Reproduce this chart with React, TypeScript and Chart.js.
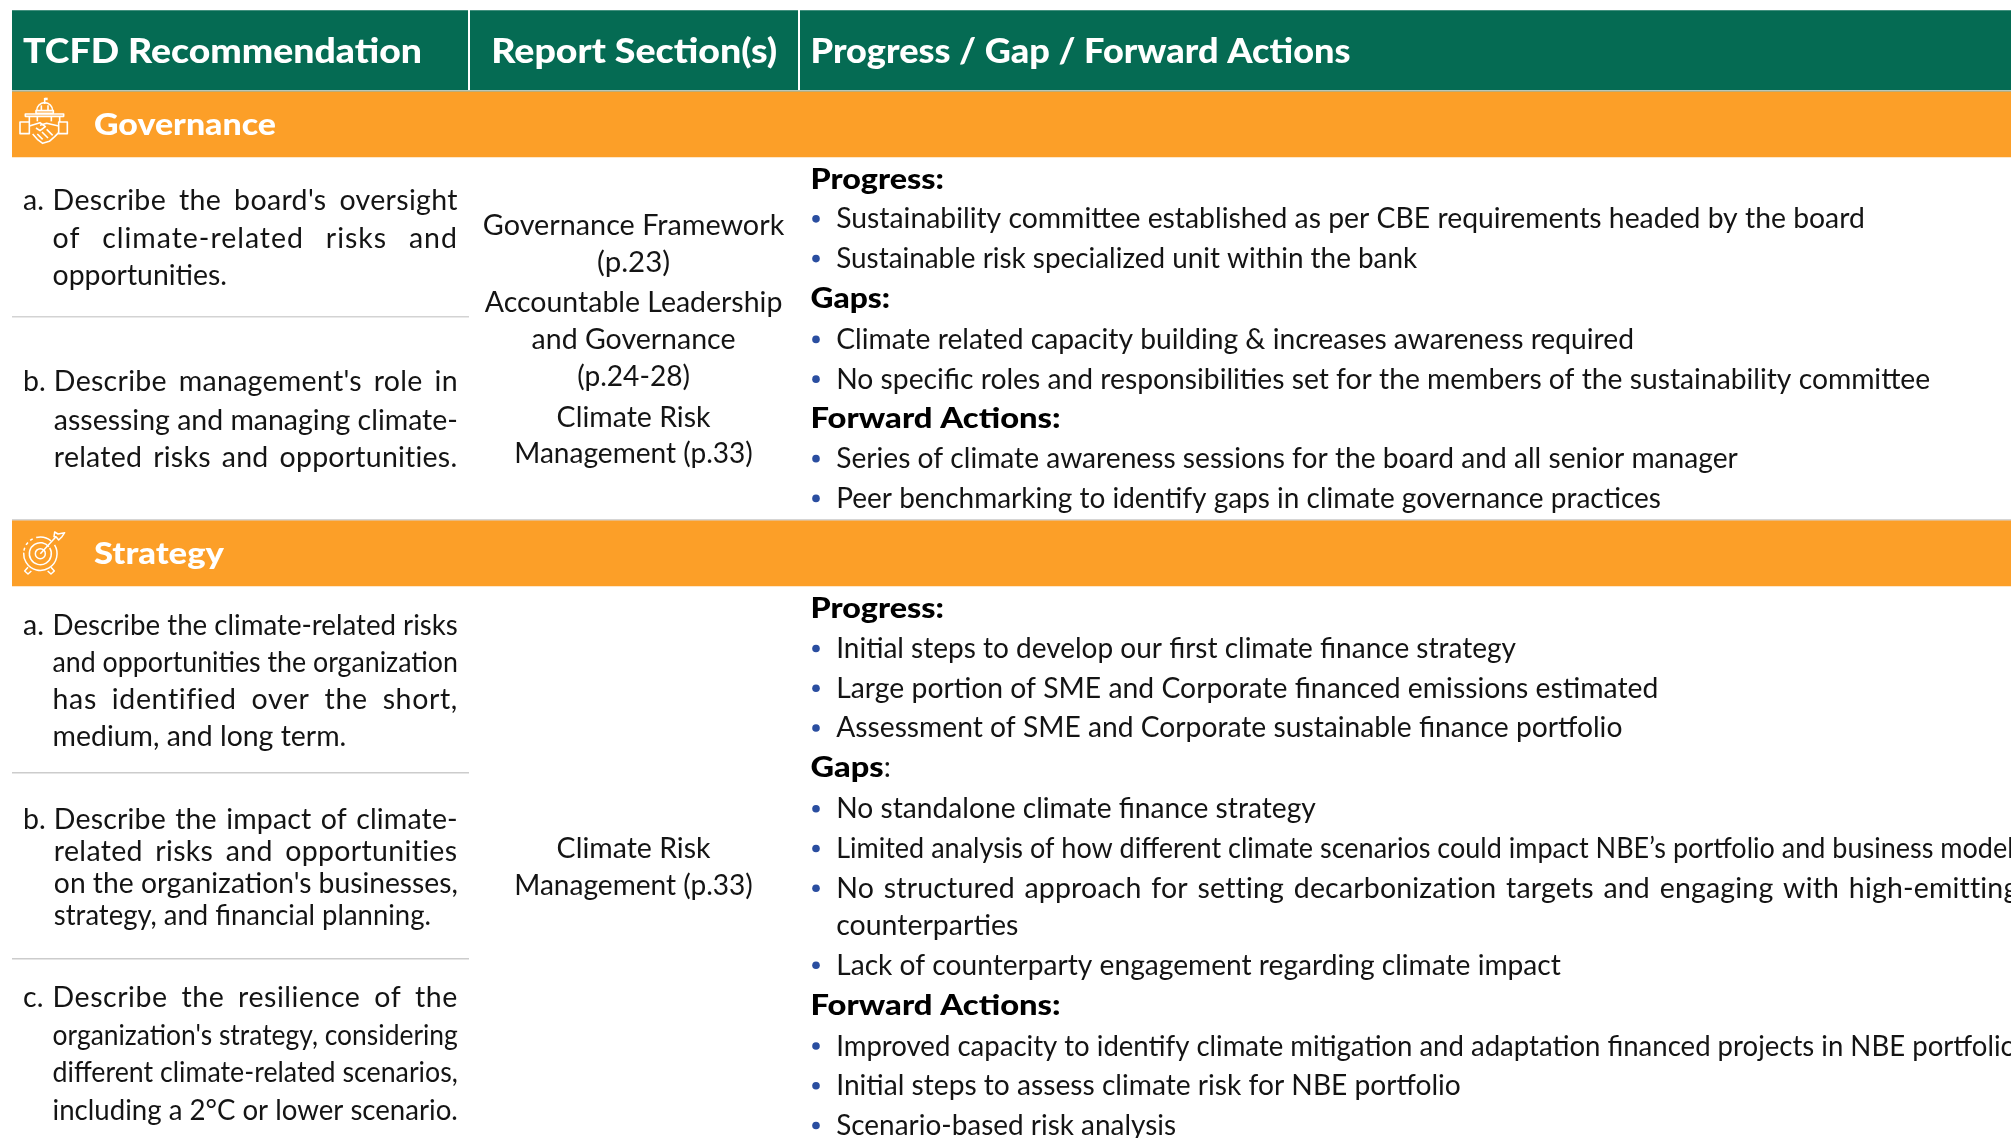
import React, { useEffect, useRef } from "react";
import { Chart, registerables } from "chart.js";

Chart.register(...registerables);

// ---- table contents ----
const headerLabels = ["TCFD Recommendation", "Report Section(s)", "Progress / Gap / Forward Actions"];
const sectionLabels = ["Governance", "Strategy"];
const rowLabels = ["margin", "header", "Governance", "Governance rows", "Strategy", "Strategy rows"];
const rowHeights = [10, 81, 66, 362, 67, 552];

const govRec = [
  ["a.", "Describe the board's oversight", "of climate-related risks and", "opportunities."],
  ["b.", "Describe management's role in", "assessing and managing climate-", "related risks and opportunities."],
];
const stratRec = [
  ["a.", "Describe the climate-related risks", "and opportunities the organization", "has identified over the short,", "medium, and long term."],
  ["b.", "Describe the impact of climate-", "related risks and opportunities", "on the organization's businesses,", "strategy, and financial planning."],
  ["c.", "Describe the resilience of the", "organization's strategy, considering", "different climate-related scenarios,", "including a 2°C or lower scenario."],
];
const govSections = ["Governance Framework", "(p.23)", "Accountable Leadership", "and Governance", "(p.24-28)", "Climate Risk", "Management (p.33)"];
const stratSections = ["Climate Risk", "Management (p.33)"];

const govActions = [
  "#Progress:",
  "Sustainability committee established as per CBE requirements headed by the board",
  "Sustainable risk specialized unit within the bank",
  "#Gaps:",
  "Climate related capacity building & increases awareness required",
  "No specific roles and responsibilities set for the members of the sustainability committee",
  "#Forward Actions:",
  "Series of climate awareness sessions for the board and all senior manager",
  "Peer benchmarking to identify gaps in climate governance practices",
];
const stratActions = [
  "#Progress:",
  "Initial steps to develop our first climate finance strategy",
  "Large portion of SME and Corporate financed emissions estimated",
  "Assessment of SME and Corporate sustainable finance portfolio",
  "#Gaps",
  "No standalone climate finance strategy",
  "Limited analysis of how different climate scenarios could impact NBE\u2019s portfolio and business model",
  "No structured approach for setting decarbonization targets and engaging with high-emitting",
  "~counterparties",
  "Lack of counterparty engagement regarding climate impact",
  "#Forward Actions:",
  "Improved capacity to identify climate mitigation and adaptation financed projects in NBE portfolio",
  "Initial steps to assess climate risk for NBE portfolio",
  "Scenario-based risk analysis",
];

// ---- layout, in px of the reference ----
const BODY = "Lato, 'Open Sans', sans-serif";
const INK = "#141414";
const k = 2011 / 1568;
const sx = (v: number) => v * k;
const govActionY = [139, 170, 201, 232, 264, 295, 326, 357, 388];
const govActionEnd = [736, 1454, 1105, 694, 1274, 1505, 827, 1355, 1295];
const stratActionY = [474, 505, 536, 567, 598, 630, 661, 692, 721, 752, 783, 815, 846, 877];
const stratActionEnd = [736, 1182, 1293, 1265, 689, 1026, 1570, 1573, 794, 1217, 827, 1572, 1139, 917];
const justifiedAction = "No structured";
const govSectionY = [175, 204, 235, 264, 293, 325, 353];
const govSectionW = [235, 57, 232, 159, 88, 120, 186];
const stratSectionY = [661, 690];
const stratSectionW = [120, 186];

type RecBlock = { x: number; y: number[]; end: number[]; just: boolean[] };
const govRecLayout: RecBlock[] = [
  { x: 41, y: [156, 185, 214], end: [357, 357, 177], just: [true, true, false] },
  { x: 42, y: [297, 327, 356], end: [357, 357, 357], just: [true, true, true] },
];
const stratRecLayout: RecBlock[] = [
  { x: 41, y: [487, 516, 545, 574], end: [357, 357, 357, 270], just: [true, true, true, false] },
  { x: 42, y: [638, 663, 688, 713], end: [357, 357, 357, 336], just: [true, true, true, false] },
  { x: 41, y: [777, 807, 836, 865], end: [357, 357, 357, 357], just: [true, true, true, true] },
];

function fit(
  ctx: CanvasRenderingContext2D,
  text: string,
  x0: number,
  x1: number,
  y: number,
  font: string,
  color: string,
  justify = false
) {
  ctx.save();
  ctx.font = font;
  ctx.fillStyle = color;
  ctx.textBaseline = "alphabetic";
  ctx.textAlign = "left";
  const w = ctx.measureText(text).width;
  const target = x1 - x0;
  const spaces = text.split(" ").length - 1;
  if (justify && w < target && spaces > 0) {
    const extra = target - w;
    (ctx as any).letterSpacing = (extra * 0.4) / text.length + "px";
    (ctx as any).wordSpacing = (extra * 0.6) / spaces + "px";
    ctx.fillText(text, x0, y);
  } else {
    ctx.translate(x0, y);
    ctx.scale(target / w, 1);
    ctx.fillText(text, 0, 0);
  }
  ctx.restore();
}

function drawBuildingIcon(ctx: CanvasRenderingContext2D, X: (v: number) => number, Y: (v: number) => number) {
  const I = (p: number) => X(12 + p / 3);
  const J = (p: number) => Y(92 + p / 3);
  ctx.save();
  ctx.strokeStyle = "#ffffff";
  ctx.fillStyle = "#ffffff";
  ctx.lineWidth = 1.6;
  ctx.lineJoin = "round";
  const poly = (pts: number[][], close = false) => {
    ctx.beginPath();
    pts.forEach((p, i) => (i ? ctx.lineTo(I(p[0]), J(p[1])) : ctx.moveTo(I(p[0]), J(p[1]))));
    if (close) ctx.closePath();
    ctx.stroke();
  };
  // flag
  poly([[98, 18], [98, 36]]);
  ctx.fillRect(I(98), J(17), 3, 2.5);
  // dome
  ctx.beginPath();
  ctx.arc(I(98), J(56), 8, Math.PI, 0);
  ctx.stroke();
  poly([[72, 56], [124, 56], [124, 64], [72, 64]], true);
  poly([[88, 40], [88, 56]]);
  poly([[108, 40], [108, 56]]);
  // roof
  poly([[40, 66], [155, 66], [155, 73], [40, 73]], true);
  poly([[52, 73], [52, 90]]);
  poly([[143, 73], [143, 90]]);
  poly([[76, 73], [76, 88]]);
  poly([[118, 73], [118, 88]]);
  // wings
  poly([[24, 90], [52, 90], [52, 125], [24, 125]], true);
  poly([[140, 90], [166, 90], [166, 125], [140, 125]], true);
  // handshake
  poly([[52, 102], [84, 92], [100, 104], [84, 116], [72, 108]]);
  poly([[140, 102], [104, 94], [84, 100]]);
  poly([[62, 126], [76, 142], [92, 154], [112, 148], [128, 134], [140, 122]]);
  poly([[76, 126], [92, 142]]);
  poly([[90, 120], [108, 138]]);
  poly([[104, 112], [122, 130]]);
  ctx.restore();
}

function drawTargetIcon(ctx: CanvasRenderingContext2D, X: (v: number) => number, Y: (v: number) => number) {
  const I = (p: number) => X(12 + p / 3);
  const J = (p: number) => Y(522 + p / 3);
  ctx.save();
  ctx.strokeStyle = "#ffffff";
  ctx.lineWidth = 1.5;
  ctx.lineJoin = "round";
  const cx = I(85),
    cy = J(95);
  // outer ring, broken at the top left and the top right
  ctx.beginPath();
  ctx.arc(cx, cy, 16.7, -0.55, Math.PI * 1.02);
  ctx.stroke();
  ctx.setLineDash([3, 3]);
  ctx.beginPath();
  ctx.arc(cx, cy, 16.7, Math.PI * 1.06, Math.PI * 1.36);
  ctx.stroke();
  ctx.setLineDash([]);
  ctx.beginPath();
  ctx.arc(cx, cy, 16.7, Math.PI * 1.42, Math.PI * 1.72);
  ctx.stroke();
  ctx.beginPath();
  ctx.arc(cx, cy, 11, -0.55, Math.PI * 1.78);
  ctx.stroke();
  ctx.beginPath();
  ctx.arc(cx, cy, 5, 0, Math.PI * 2);
  ctx.stroke();
  const poly = (pts: number[][], close = false) => {
    ctx.beginPath();
    pts.forEach((p, i) => (i ? ctx.lineTo(I(p[0]), J(p[1])) : ctx.moveTo(I(p[0]), J(p[1]))));
    if (close) ctx.closePath();
    ctx.stroke();
  };
  poly([[85, 95], [132, 44]]);
  poly([[126, 44], [128, 30], [138, 36], [158, 32], [150, 44], [140, 54], [132, 44]], true);
  poly([[48, 136], [38, 147], [48, 156], [58, 147]]);
  poly([[117, 136], [127, 147], [117, 156], [107, 147]]);
  ctx.restore();
}

const tablePlugin = {
  id: "tableText",
  afterDatasetsDraw(chart: any) {
    const ctx: CanvasRenderingContext2D = chart.ctx;
    const xs = chart.scales.xt;
    const ys = chart.scales.y;
    const X = (v: number) => xs.getPixelForValue(v);
    const Y = (v: number) => ys.getPixelForValue(v);
    const base = (c: number) => Y(sx(c) + 10.3);
    const bodyFont = `400 28.5px ${BODY}`;
    const headFont = `900 28.5px ${BODY}`;

    // rules
    const rule = (x0: number, x1: number, y: number, c: string, w: number) => {
      ctx.fillStyle = c;
      ctx.fillRect(X(x0), Y(y), X(x1) - X(x0), w);
    };
    rule(12, 2011, 90, "#b9c7b9", 1.5);
    rule(12, 2011, 519, "#d5d5d5", 1.5);
    rule(12, 469, 316, "#d3d3d3", 1.5);
    rule(12, 469, 772, "#cccccc", 1.5);
    rule(12, 469, 958, "#cccccc", 1.5);
    ctx.fillStyle = "#ffffff";
    ctx.fillRect(X(468), Y(10), 2, Y(90) - Y(10));
    ctx.fillRect(X(798), Y(10), 2, Y(90) - Y(10));

    // header
    const hf = `900 34px ${BODY}`;
    fit(ctx, headerLabels[0], X(sx(18)), X(sx(329)), Y(63), hf, "#fff");
    fit(ctx, headerLabels[1], X(sx(383)), X(sx(606)), Y(63), hf, "#fff");
    fit(ctx, headerLabels[2], X(sx(632)), X(sx(1053)), Y(63), hf, "#fff");

    // sections
    const sf = `900 31px ${BODY}`;
    fit(ctx, sectionLabels[0], X(94), X(276), Y(134.5), sf, "#fff");
    fit(ctx, sectionLabels[1], X(94), X(224), Y(563.5), sf, "#fff");
    drawBuildingIcon(ctx, X, Y);
    drawTargetIcon(ctx, X, Y);

    // recommendation column
    const drawRec = (blocks: string[][], layout: RecBlock[]) => {
      blocks.forEach((b, i) => {
        const l = layout[i];
        ctx.save();
        ctx.font = bodyFont;
        ctx.fillStyle = INK;
        ctx.fillText(b[0], X(sx(18)), base(l.y[0]));
        ctx.restore();
        b.slice(1).forEach((t, j) => {
          fit(ctx, t, X(sx(l.x)), X(sx(l.end[j])), base(l.y[j]), bodyFont, INK, l.just[j]);
        });
      });
    };
    drawRec(govRec, govRecLayout);
    drawRec(stratRec, stratRecLayout);

    // sections column
    const drawSec = (lines: string[], ys2: number[], ws: number[]) => {
      lines.forEach((t, i) => {
        const c = 494;
        fit(ctx, t, X(sx(c - ws[i] / 2)), X(sx(c + ws[i] / 2)), base(ys2[i]), bodyFont, INK);
      });
    };
    drawSec(govSections, govSectionY, govSectionW);
    drawSec(stratSections, stratSectionY, stratSectionW);

    // actions column
    const drawAct = (lines: string[], ys2: number[], ends: number[]) => {
      lines.forEach((t, i) => {
        const y = base(ys2[i]);
        if (t[0] === "#") {
          fit(ctx, t.slice(1), X(sx(632)), X(sx(ends[i])), y, headFont, "#000");
          if (t === "#Gaps") {
            ctx.save();
            ctx.font = bodyFont;
            ctx.fillStyle = INK;
            ctx.fillText(":", X(sx(ends[i])), y);
            ctx.restore();
          }
        } else if (t[0] === "~") {
          fit(ctx, t.slice(1), X(sx(652)), X(sx(ends[i])), y, bodyFont, INK);
        } else {
          ctx.save();
          ctx.fillStyle = "#2a4ea0";
          ctx.beginPath();
          ctx.arc(X(816), y - 9.5, 3.8, 0, Math.PI * 2);
          ctx.fill();
          ctx.restore();
          fit(ctx, t, X(sx(652)), X(sx(ends[i])), y, bodyFont, INK, t.startsWith(justifiedAction));
        }
      });
    };
    drawAct(govActions, govActionY, govActionEnd);
    drawAct(stratActions, stratActionY, stratActionEnd);
  },
};

export default function App() {
  const ref = useRef<HTMLCanvasElement | null>(null);
  useEffect(() => {
    document.body.style.margin = "0";
    document.body.style.background = "#ffffff";
    const colours = ["#ffffff", "#056b53", "#fc9f28", "#ffffff", "#fc9f28", "#ffffff"];
    const chart = new Chart(ref.current as HTMLCanvasElement, {
      type: "bar",
      data: {
        labels: ["table"],
        datasets: rowLabels.map((label, i) => ({
          label,
          data: [rowHeights[i]],
          backgroundColor: colours[i],
          borderWidth: 0,
          barPercentage: 1,
          categoryPercentage: 1,
          stack: "rows",
        })),
      },
      plugins: [tablePlugin],
      options: {
        responsive: false,
        animation: false,
        maintainAspectRatio: false,
        layout: { padding: { left: 12, right: 0, top: 0, bottom: 0 } },
        plugins: { legend: { display: false }, tooltip: { enabled: false }, title: { display: false } },
        scales: {
          x: { display: false, stacked: true, grid: { display: false } },
          xt: { type: "linear", display: false, offset: false, min: 12, max: 2011, position: "bottom" },
          y: { display: false, stacked: true, reverse: true, min: 0, max: 1138, grid: { display: false } },
        },
      } as any,
    });
    return () => chart.destroy();
  }, []);
  return <canvas ref={ref} width={2011} height={1138} style={{ display: "block" }} />;
}
